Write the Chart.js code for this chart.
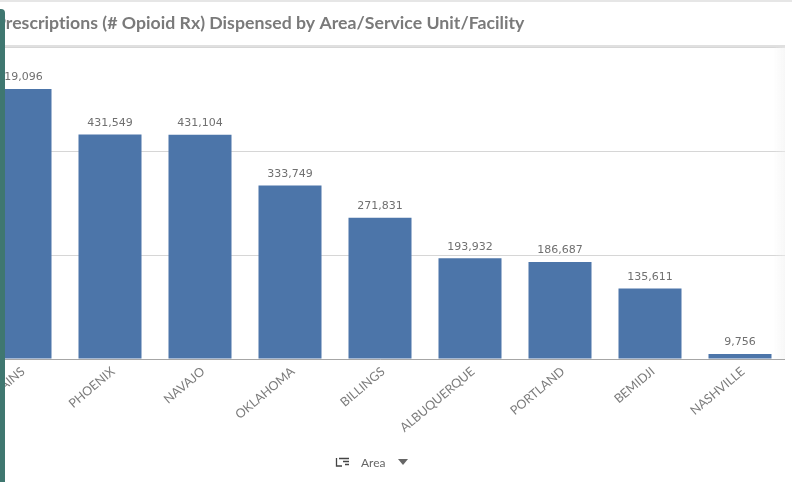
<!DOCTYPE html>
<html>
<head>
<meta charset="utf-8">
<style>
  html, body { margin: 0; padding: 0; background: #fff; overflow: hidden; width: 792px; height: 482px; }
  #wrap { position: absolute; left: -25px; top: 0; width: 810px; height: 482px; }
  #panel { position: absolute; left: 0; top: 9px; bottom: 0; width: 5px; background: #3f7770; border-top-right-radius: 4px; }
  #topline { position: absolute; left: 0; top: 0; width: 792px; height: 2px; background: #e6e6e6; }
  #fade { position: absolute; left: 773px; top: 47px; width: 12px; height: 312px; background: linear-gradient(to right, rgba(240,240,240,0), rgba(240,240,240,0.5)); }
</style>
</head>
<body>
<div id="wrap"><canvas id="rxChart" width="810" height="482"></canvas></div>
<div id="topline"></div>
<div id="fade"></div>
<div id="panel"></div>
<script src="https://cdn.jsdelivr.net/npm/chart.js@4"></script>
<script>
const areas = ['GREAT PLAINS', 'PHOENIX', 'NAVAJO', 'OKLAHOMA', 'BILLINGS', 'ALBUQUERQUE', 'PORTLAND', 'BEMIDJI', 'NASHVILLE'];
const rxCounts = [519096, 431549, 431104, 333749, 271831, 193932, 186687, 135611, 9756];
const titleText = 'Prescriptions (# Opioid Rx) Dispensed by Area/Service Unit/Facility';
const dimensionLabel = 'Area';

// value above each bar, title strip and the dimension selector under the axis
const extras = {
    id: 'extras',
    afterDatasetsDraw(chart) {
        const c = chart.ctx;
        c.save();
        c.fillStyle = '#707070';
        c.font = '11px "DejaVu Sans"';
        c.textAlign = 'center';
        c.textBaseline = 'bottom';
        chart.getDatasetMeta(0).data.forEach(function (bar, i) {
            c.fillText(rxCounts[i].toLocaleString('en-US'), bar.x, bar.y - 6);
        });

        c.strokeStyle = '#e0e0e0';
        c.lineWidth = 2;
        c.beginPath();
        c.moveTo(0, 46);
        c.lineTo(chart.width, 46);
        c.stroke();

        // tiny spacing keeps the "ti" from turning into a ligature
        c.letterSpacing = '0.01px';
        c.fillStyle = '#7a7a7a';
        c.font = 'bold 17.7px Lato';
        c.textAlign = 'left';
        c.textBaseline = 'middle';
        c.fillText(titleText, 20, 23);
        c.letterSpacing = '0px';

        c.fillStyle = '#666';
        c.font = '12px Lato';
        c.fillText(dimensionLabel, 386, 463);

        // sort icon
        c.strokeStyle = '#444';
        c.lineWidth = 1.3;
        c.beginPath();
        c.moveTo(361.5, 458); c.lineTo(361.5, 466); c.lineTo(367, 466);
        c.moveTo(364, 458.5); c.lineTo(374, 458.5);
        c.moveTo(368, 461.5); c.lineTo(374, 461.5);
        c.moveTo(370, 464.5); c.lineTo(374, 464.5);
        c.stroke();

        // dropdown arrow
        c.fillStyle = '#666';
        c.beginPath();
        c.moveTo(423, 459); c.lineTo(433, 459); c.lineTo(428, 465);
        c.closePath();
        c.fill();
        c.restore();
    }
};

new Chart(document.getElementById('rxChart'), {
    type: 'bar',
    data: {
        labels: areas,
        datasets: [{
            data: rxCounts,
            backgroundColor: '#4c75a9',
            categoryPercentage: 0.7,
            barPercentage: 1
        }]
    },
    options: {
        responsive: false,
        animation: false,
        layout: { padding: { top: 47, left: 0, right: 0, bottom: 0 } },
        plugins: {
            legend: { display: false },
            tooltip: { enabled: false }
        },
        scales: {
            x: {
                grid: { display: false },
                border: { color: '#a6a6a6' },
                afterFit(scale) {
                    scale.height = 123;
                    scale.paddingLeft = 0;
                    scale.paddingRight = 0;
                },
                ticks: {
                    color: '#7c7c7c',
                    font: { family: 'Lato', size: 12.5 },
                    minRotation: 40,
                    maxRotation: 40,
                    autoSkip: false,
                    padding: -3,
                    labelOffset: 3
                }
            },
            y: {
                min: 0,
                max: 600000,
                display: true,
                afterFit(scale) { scale.width = 0; },
                ticks: { display: false, stepSize: 200000 },
                border: { display: false },
                grid: { color: '#d6d6d6', drawTicks: false }
            }
        }
    },
    plugins: [extras]
});
</script>
</body>
</html>
